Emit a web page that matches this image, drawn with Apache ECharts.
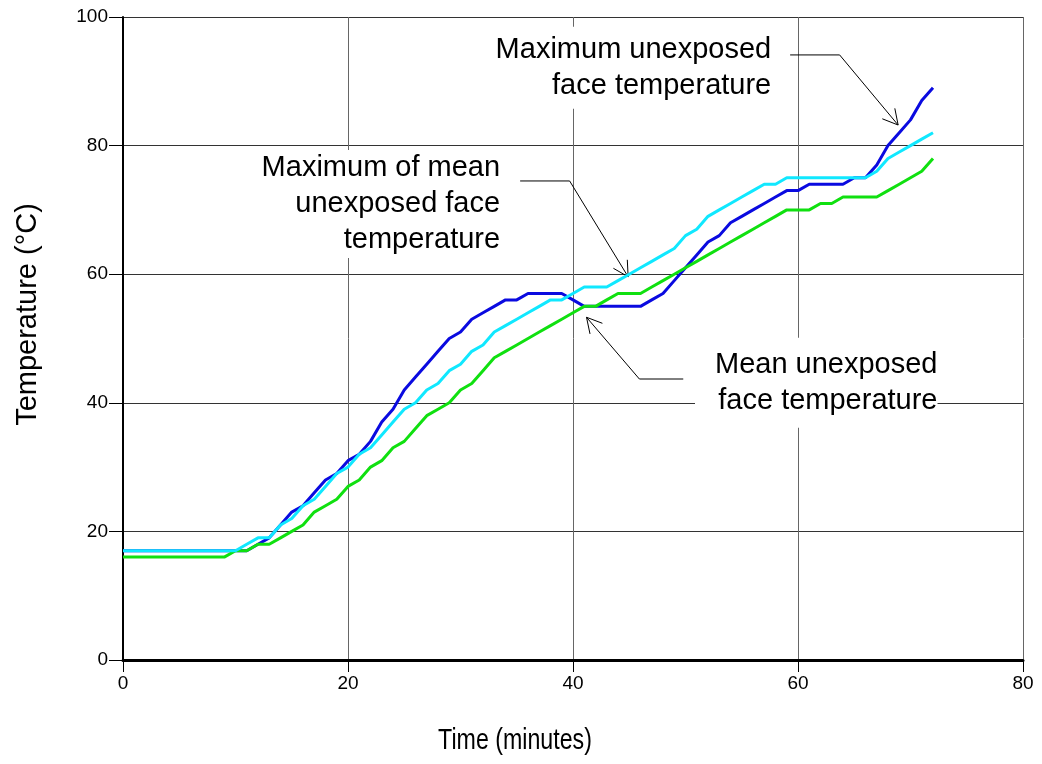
<!DOCTYPE html>
<html>
<head>
<meta charset="utf-8">
<title>Unexposed face temperature</title>
<script src="https://cdn.jsdelivr.net/npm/echarts@6/dist/echarts.min.js"></script>
<style>
  html, body { margin: 0; padding: 0; background: #fff; }
  #main { width: 1042px; height: 764px; }
</style>
</head>
<body>
<div id="main"></div>
<script>
// time in minutes, one reading a minute
const minutes = [
  0, 1, 2, 3, 4, 5, 6, 7, 8, 9, 10, 11, 12, 13, 14, 15, 16, 17, 18, 19,
  20, 21, 22, 23, 24, 25, 26, 27, 28, 29, 30, 31, 32, 33, 34, 35, 36, 37, 38, 39,
  40, 41, 42, 43, 44, 45, 46, 47, 48, 49, 50, 51, 52, 53, 54, 55, 56, 57, 58, 59,
  60, 61, 62, 63, 64, 65, 66, 67, 68, 69, 70, 71, 72,
];

// maximum unexposed face temperature (blue)
const maxFace = [
  17, 17, 17, 17, 17, 17, 17, 17, 17, 17, 17, 17, 18, 19, 21, 23, 24, 26, 28, 29,
  31, 32, 34, 37, 39, 42, 44, 46, 48, 50, 51, 53, 54, 55, 56, 56, 57, 57, 57, 57,
  56, 55, 55, 55, 55, 55, 55, 56, 57, 59, 61, 63, 65, 66, 68, 69, 70, 71, 72, 73,
  73, 74, 74, 74, 74, 75, 75, 77, 80, 82, 84, 87, 89,
];

// maximum of mean unexposed face temperature (cyan)
const maxOfMean = [
  17, 17, 17, 17, 17, 17, 17, 17, 17, 17, 17, 18, 19, 19, 21, 22, 24, 25, 27, 29,
  30, 32, 33, 35, 37, 39, 40, 42, 43, 45, 46, 48, 49, 51, 52, 53, 54, 55, 56, 56,
  57, 58, 58, 58, 59, 60, 61, 62, 63, 64, 66, 67, 69, 70, 71, 72, 73, 74, 74, 75,
  75, 75, 75, 75, 75, 75, 75, 76, 78, 79, 80, 81, 82,
];

// mean unexposed face temperature (green)
const meanFace = [
  16, 16, 16, 16, 16, 16, 16, 16, 16, 16, 17, 17, 18, 18, 19, 20, 21, 23, 24, 25,
  27, 28, 30, 31, 33, 34, 36, 38, 39, 40, 42, 43, 45, 47, 48, 49, 50, 51, 52, 53,
  54, 55, 55, 56, 57, 57, 57, 58, 59, 60, 61, 62, 63, 64, 65, 66, 67, 68, 69, 70,
  70, 70, 71, 71, 72, 72, 72, 72, 73, 74, 75, 76, 78,
];

// callouts: text, anchor [min, degC] of the text box, leader path [min, degC]
const noteTexts = [
  'Maximum unexposed\nface temperature',
  'Maximum of mean\nunexposed face\ntemperature',
  'Mean unexposed\nface temperature',
];
const noteAnchors = [[57.8, 92.1], [33.7, 70.9], [72.4, 43.1]];
const notePaths = [
  [[59.3, 94.1], [63.7, 94.1], [68.9, 83.2]],
  [[35.3, 74.5], [39.7, 74.5], [44.9, 59.6]],
  [[49.8, 43.7], [45.9, 43.7], [41.2, 53.3]],
];

const xTicks = [0, 20, 40, 60, 80];
const yTicks = [0, 20, 40, 60, 80, 100];

const pairs = (ys) => minutes.map((t, i) => [t, ys[i]]);

const notePads = [[5, 2, 5, 2], [0, 2, 0, 2], [10, 0, 8, 20]];

const renderNote = (params, api) => {
  const i = params.dataIndex;
  const pts = notePaths[i].map((p) => api.coord(p));
  const tip = pts[pts.length - 1];
  const prev = pts[pts.length - 2];
  const ang = Math.atan2(prev[1] - tip[1], prev[0] - tip[0]);
  const len = 17;
  const spread = 0.5;
  const head1 = [tip[0] + len * Math.cos(ang + spread), tip[1] + len * Math.sin(ang + spread)];
  const head2 = [tip[0] + len * Math.cos(ang - spread), tip[1] + len * Math.sin(ang - spread)];
  const at = api.coord(noteAnchors[i]);
  const lineStyle = { stroke: '#000', lineWidth: 1, fill: null };

  return {
    type: 'group',
    children: [
      {
        type: 'text',
        style: {
          text: noteTexts[i],
          x: at[0],
          y: at[1],
          align: 'right',
          verticalAlign: 'middle',
          font: '29px "Liberation Sans", Arial, sans-serif',
          lineHeight: 36,
          fill: '#000',
          backgroundColor: '#fff',
          padding: notePads[i],
        },
      },
      { type: 'polyline', shape: { points: pts }, style: lineStyle },
      { type: 'polyline', shape: { points: [head1, tip, head2] }, style: lineStyle },
    ],
  };
};

const myChart = echarts.init(document.getElementById('main'), null, { renderer: 'canvas' });

const option = {
  backgroundColor: '#fff',
  animation: false,
  grid: {
    left: 123,
    right: 19,
    top: 17,
    bottom: 104,
  },
  // x title is squeezed sideways like the original's narrow face
  graphic: [
    {
      type: 'text',
      x: 515,
      y: 741,
      scaleX: 0.8,
      silent: true,
      style: {
        text: 'Time (minutes)',
        align: 'center',
        verticalAlign: 'middle',
        font: '29px "Liberation Sans", Arial, sans-serif',
        fill: '#000',
      },
    },
  ],
  xAxis: {
    type: 'value',
    min: xTicks[0],
    max: xTicks[xTicks.length - 1],
    interval: 20,
    axisLine: { show: true, lineStyle: { color: '#000', width: 3 } },
    axisTick: { show: true, length: 12, lineStyle: { color: '#000', width: 1 } },
    axisLabel: {
      margin: 14,
      fontFamily: '"Liberation Sans", Arial, sans-serif',
      fontSize: 19,
      color: '#000',
    },
    splitLine: { show: true, lineStyle: { color: '#666', width: 1 } },
  },
  yAxis: {
    type: 'value',
    min: yTicks[0],
    max: yTicks[yTicks.length - 1],
    interval: 20,
    name: 'Temperature (°C)',
    nameLocation: 'middle',
    nameGap: 81,
    nameTextStyle: {
      fontFamily: '"Liberation Sans", Arial, sans-serif',
      fontSize: 29,
      color: '#000',
      padding: [0, 0, 0, 48],
    },
    axisLine: { show: true, lineStyle: { color: '#000', width: 2 } },
    axisTick: { show: true, length: 14, lineStyle: { color: '#000', width: 1 } },
    axisLabel: {
      margin: 15,
      fontFamily: '"Liberation Sans", Arial, sans-serif',
      fontSize: 19,
      color: '#000',
    },
    splitLine: { show: true, lineStyle: { color: '#333', width: 1 } },
  },
  series: [
    {
      name: 'Callouts',
      type: 'custom',
      z: 1,
      silent: true,
      clip: false,
      renderItem: renderNote,
      data: noteAnchors,
    },
    {
      name: 'Maximum unexposed face temperature',
      type: 'line',
      z: 2,
      data: pairs(maxFace),
      showSymbol: false,
      lineStyle: { color: '#0a0ae0', width: 3 },
    },
    {
      name: 'Mean unexposed face temperature',
      type: 'line',
      z: 3,
      data: pairs(meanFace),
      showSymbol: false,
      lineStyle: { color: '#10e010', width: 3 },
    },
    {
      name: 'Maximum of mean unexposed face temperature',
      type: 'line',
      z: 4,
      data: pairs(maxOfMean),
      showSymbol: false,
      lineStyle: { color: '#10e8ff', width: 3 },
    },
  ],
};

myChart.setOption(option);
</script>
</body>
</html>
